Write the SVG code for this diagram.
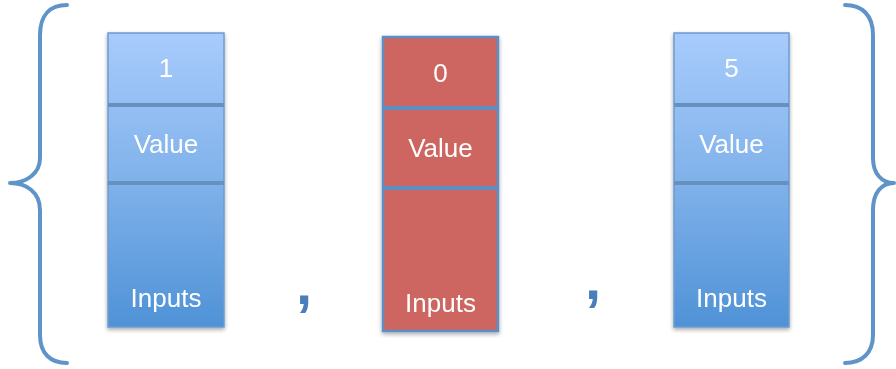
<svg xmlns="http://www.w3.org/2000/svg" width="896" height="369" viewBox="0 0 896 369">
<style>
.brace{fill:none;stroke:#5f94c8;stroke-width:4;stroke-linecap:round;stroke-linejoin:round}
.lbl{font-family:"Liberation Sans",Arial,sans-serif;font-size:26px;fill:#ffffff;text-anchor:middle}
.blue{fill:url(#gb);stroke:#6e9bd0;stroke-width:1.5}
.red{fill:#cd6660;stroke:#5b8ec8;stroke-width:2.5}
.dvb{stroke:#6690c0;stroke-width:4}
.dvr{stroke:#5b8ec8;stroke-width:4}
.comma{font-family:"Liberation Sans",Arial,sans-serif;font-size:58px;font-weight:bold;fill:#4a7ebb;text-anchor:middle}
</style>
<defs>
<linearGradient id="gb" x1="0" y1="0" x2="0" y2="1">
<stop offset="0" stop-color="#a8cbfc"/>
<stop offset="0.5" stop-color="#80b2ea"/>
<stop offset="1" stop-color="#4f92d7"/>
</linearGradient>
<filter id="sh" x="-20%" y="-10%" width="140%" height="120%">
<feGaussianBlur in="SourceAlpha" stdDeviation="2"/>
<feOffset dx="0" dy="2" result="b"/>
<feComponentTransfer><feFuncA type="linear" slope="0.35"/></feComponentTransfer>
<feMerge><feMergeNode/><feMergeNode in="SourceGraphic"/></feMerge>
</filter>
</defs>
<g id="brace-left">
<path class="brace" d="M67,5 C50,5 40,15 40,35 L40,158 C40,174 26,183 10,183 C26,183 40,192 40,210 L40,335 C40,353 50,363 67,363"/>
</g>
<g id="brace-right">
<path class="brace" d="M845,5 C862,5 873,15 873,35 L873,158 C873,174 882,183 894,183 C882,183 873,192 873,210 L873,335 C873,353 862,363 845,363"/>
</g>
<g id="node-1" filter="url(#sh)">
<rect class="blue" x="108" y="33" width="116" height="294"/>
<line class="dvb" x1="108" y1="105" x2="224" y2="105"/>
<line class="dvb" x1="108" y1="183" x2="224" y2="183"/>
<text class="lbl" x="166" y="77">1</text>
<text class="lbl" x="166" y="153">Value</text>
<text class="lbl" x="166" y="307">Inputs</text>
</g>
<g id="node-0" filter="url(#sh)">
<rect class="red" x="383" y="37" width="115" height="294"/>
<line class="dvr" x1="383" y1="108" x2="498" y2="108"/>
<line class="dvr" x1="383" y1="188" x2="498" y2="188"/>
<text class="lbl" x="440.5" y="82">0</text>
<text class="lbl" x="440.5" y="157">Value</text>
<text class="lbl" x="440.5" y="312">Inputs</text>
</g>
<g id="node-5" filter="url(#sh)">
<rect class="blue" x="674" y="33" width="115" height="294"/>
<line class="dvb" x1="674" y1="105" x2="789" y2="105"/>
<line class="dvb" x1="674" y1="183" x2="789" y2="183"/>
<text class="lbl" x="731.5" y="77">5</text>
<text class="lbl" x="731.5" y="153">Value</text>
<text class="lbl" x="731.5" y="307">Inputs</text>
</g>
<g id="connectors">
<text class="comma" x="304" y="304">,</text>
<text class="comma" x="593" y="299">,</text>
</g>
</svg>
